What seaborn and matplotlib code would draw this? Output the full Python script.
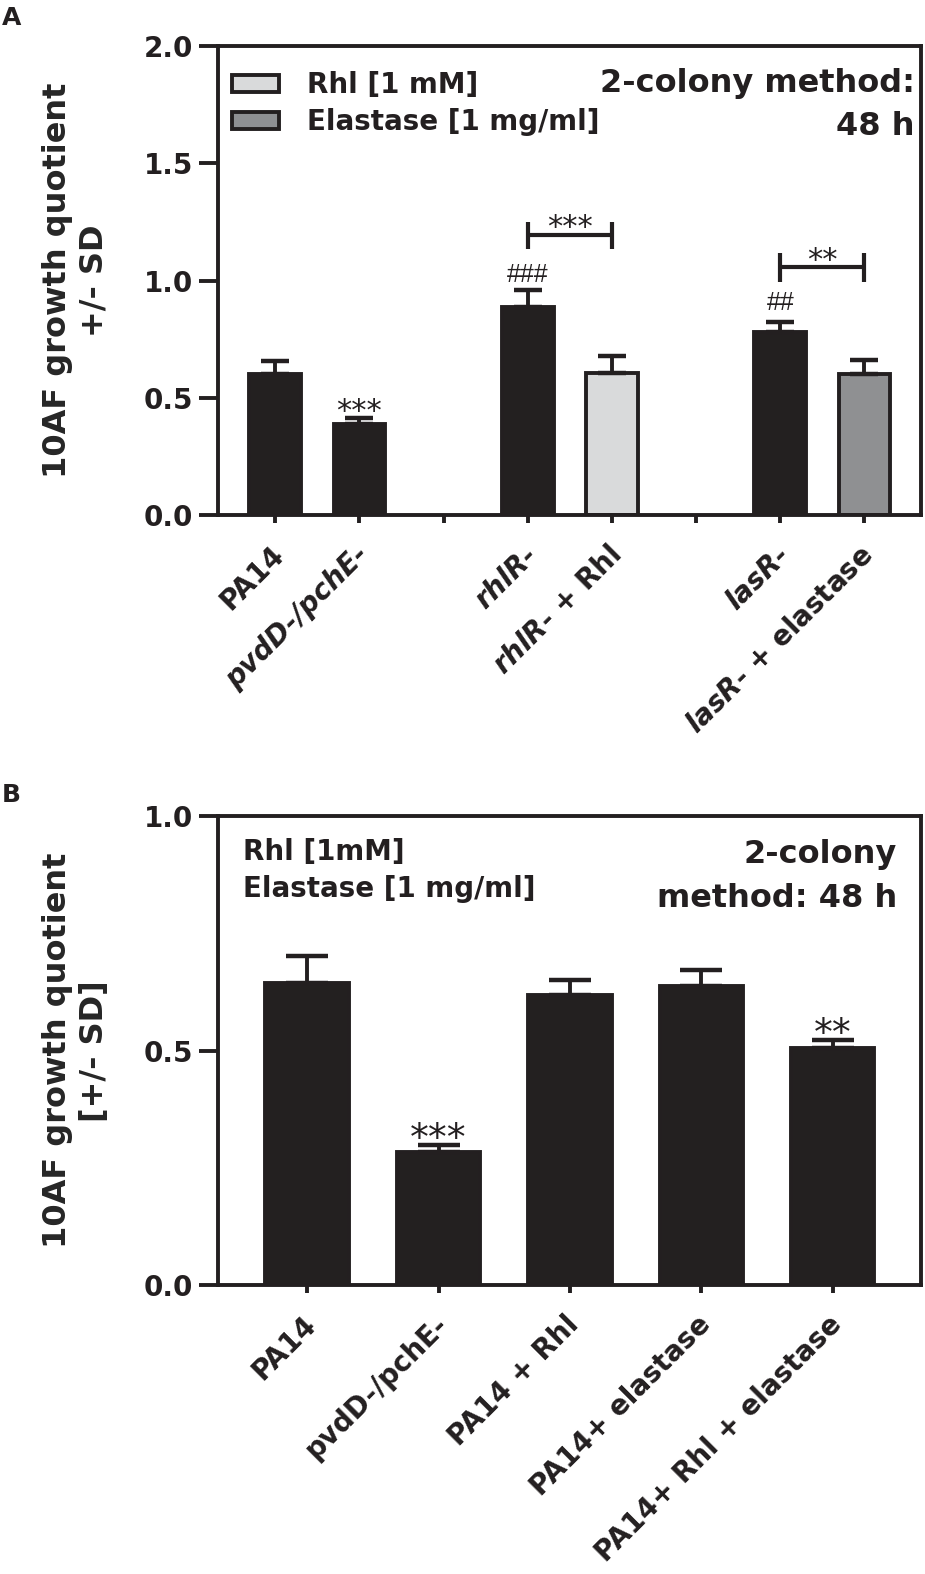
import numpy as np
import pandas as pd
import matplotlib
matplotlib.use("Agg")
import matplotlib.pyplot as plt
import matplotlib.transforms as mtransforms
from matplotlib.patches import Patch
import seaborn as sns

INK = "#231f20"
LIGHT = "#d9dadb"
MID = "#8e9093"

# ---- painel A ----
a_slots = ["PA14", "pvdD-/pchE-", "vazio1", "rhlR-", "rhlR- + Rhl",
           "vazio2", "lasR-", "lasR- + elastase"]
a_groups = ["PA14", "pvdD-/pchE-", "rhlR-", "rhlR- + Rhl", "lasR-", "lasR- + elastase"]
a_means = [0.601, 0.391, 0.888, 0.606, 0.781, 0.603]
a_sd = [0.055, 0.025, 0.071, 0.074, 0.045, 0.060]
a_fills = [INK, INK, INK, LIGHT, INK, MID]
a_ticklabels = ["PA14", "pvdD-/pchE-", "", "rhlR-", r"$\mathbfit{rhlR}$- + Rhl",
                "", "lasR-", r"$\mathbfit{lasR}$- + elastase"]
a_italic = [False, True, False, True, False, False, True, False]
a_stars = [("pvdD-/pchE-", "***", 0.484)]
a_hashes = [("rhlR-", "###", 1.036), ("lasR-", "##", 0.917)]
# (grupo 1, grupo 2, linha, perna baixo, perna alto, texto, altura texto)
a_brackets = [("rhlR-", "rhlR- + Rhl", 1.193, 1.136, 1.249, "***", 1.27),
              ("lasR-", "lasR- + elastase", 1.059, 0.995, 1.116, "**", 1.13)]
a_legend = ["Rhl [1 mM]", "Elastase [1 mg/ml]"]

# ---- painel B ----
b_groups = ["PA14", "pvdD-/pchE-", "PA14 + Rhl", "PA14+ elastase", "PA14+ Rhl + elastase"]
b_means = [0.644, 0.283, 0.618, 0.638, 0.505]
b_sd = [0.057, 0.015, 0.033, 0.034, 0.018]
b_stars = [("pvdD-/pchE-", "***", 0.336), ("PA14+ Rhl + elastase", "**", 0.560)]

sns.set_style("ticks")
plt.rcParams["font.family"] = "DejaVu Sans"
plt.rcParams["mathtext.fontset"] = "dejavusans"
plt.rcParams["text.color"] = INK
plt.rcParams["axes.edgecolor"] = INK
plt.rcParams["xtick.color"] = INK
plt.rcParams["ytick.color"] = INK

fig = plt.figure(figsize=(9.25, 15.74), dpi=100)
ax_a = fig.add_axes([0.2362, 0.6725, 0.7598, 0.2983])
ax_b = fig.add_axes([0.2362, 0.1834, 0.7598, 0.2982])

LW = 2.8


def estilo_eixos(ax, ylabel):
    for sp in ax.spines.values():
        sp.set_visible(True)
        sp.set_linewidth(LW)
        sp.set_color(INK)
    ax.tick_params(axis="y", length=13.5, width=LW, pad=4.5, labelsize=20)
    ax.tick_params(axis="x", length=6, width=LW, pad=12, labelsize=20)
    for t in ax.get_yticklabels():
        t.set_fontweight("bold")
    ax.set_xlabel("")
    ax.set_ylabel(ylabel, fontsize=23, fontweight="bold", linespacing=1.25)
    ax.yaxis.set_label_coords(-0.1544, 0.5)


def rotula_x(ax, labels, italic=None):
    ax.set_xticks(range(len(labels)))
    ax.set_xticklabels(labels, rotation=45, ha="right", va="top",
                       rotation_mode="anchor", fontweight="bold")
    shift = mtransforms.ScaledTranslation(-0.05, 0, fig.dpi_scale_trans)
    for i, t in enumerate(ax.get_xticklabels()):
        t.set_transform(t.get_transform() + shift)
        if italic is not None and italic[i]:
            t.set_fontstyle("italic")


# ---------- painel A ----------
df_a = pd.DataFrame({"grupo": a_groups, "quociente": a_means})
sns.barplot(data=df_a, x="grupo", y="quociente", order=a_slots, hue="grupo",
            palette=dict(zip(a_groups, a_fills)), width=0.615, edgecolor=INK,
            linewidth=LW, errorbar=None, legend=False, ax=ax_a)
pos_a = [a_slots.index(g) for g in a_groups]
ax_a.errorbar(pos_a, a_means, yerr=[np.zeros(len(a_sd)), a_sd], fmt="none",
              ecolor=INK, elinewidth=LW, capsize=10.2, capthick=3.2, zorder=3)
ax_a.set_ylim(0, 2.0)
ax_a.set_yticks([0, 0.5, 1.0, 1.5, 2.0])
ax_a.set_xlim(-0.675, len(a_slots) - 1 + 0.675)
estilo_eixos(ax_a, "10AF growth quotient\n+/- SD")
rotula_x(ax_a, a_ticklabels, a_italic)

for g, txt, y in a_stars:
    ax_a.annotate(txt, xy=(a_slots.index(g), y), xytext=(0, -0.33 * 22),
                  textcoords="offset points", ha="center", va="center",
                  fontsize=22, fontfamily="DejaVu Sans")
for g, txt, y in a_hashes:
    ax_a.annotate(txt, xy=(a_slots.index(g), y), xytext=(0, -0.1 * 18),
                  textcoords="offset points", ha="center", va="center",
                  fontsize=18, fontfamily="Liberation Sans")
for g1, g2, yl, lo, hi, txt, yt in a_brackets:
    x1, x2 = a_slots.index(g1), a_slots.index(g2)
    ax_a.plot([x1, x2], [yl, yl], color=INK, lw=3, solid_capstyle="butt")
    ax_a.vlines([x1, x2], lo, hi, color=INK, lw=3)
    ax_a.annotate(txt, xy=((x1 + x2) / 2, yt), xytext=(0, -0.33 * 22),
                  textcoords="offset points", ha="center", va="center",
                  fontsize=22, fontfamily="DejaVu Sans")

handles = [Patch(facecolor=LIGHT, edgecolor=INK, linewidth=LW),
           Patch(facecolor=MID, edgecolor=INK, linewidth=LW)]
ax_a.legend(handles, a_legend, loc="upper left", bbox_to_anchor=(0.019, 0.946),
            frameon=False, prop={"size": 20, "weight": "bold"}, handlelength=1.7,
            handleheight=0.58, handletextpad=1.0, labelspacing=0.33,
            borderaxespad=0, borderpad=0)
ax_a.text(0.991, 0.9027, "2-colony method:", transform=ax_a.transAxes, ha="right",
          va="baseline", fontsize=23, fontweight="bold")
ax_a.text(0.991, 0.8104, "48 h", transform=ax_a.transAxes, ha="right",
          va="baseline", fontsize=23, fontweight="bold")

# ---------- painel B ----------
df_b = pd.DataFrame({"grupo": b_groups, "quociente": b_means})
sns.barplot(data=df_b, x="grupo", y="quociente", order=b_groups, color=INK,
            width=0.635, edgecolor=INK, linewidth=LW, errorbar=None, ax=ax_b)
ax_b.errorbar(range(len(b_groups)), b_means, yerr=[np.zeros(len(b_sd)), b_sd],
              fmt="none", ecolor=INK, elinewidth=LW, capsize=15.4, capthick=3.2,
              zorder=3)
ax_b.set_ylim(0, 1.0)
ax_b.set_yticks([0, 0.5, 1.0])
ax_b.set_xlim(-0.675, len(b_groups) - 1 + 0.675)
estilo_eixos(ax_b, "10AF growth quotient\n[+/- SD]")
rotula_x(ax_b, b_groups)

for g, txt, y in b_stars:
    ax_b.annotate(txt, xy=(b_groups.index(g), y), xytext=(0, -0.33 * 27),
                  textcoords="offset points", ha="center", va="center",
                  fontsize=27, fontfamily="DejaVu Sans")

ax_b.text(0.0344, 0.906, "Rhl [1mM]", transform=ax_b.transAxes, ha="left",
          va="baseline", fontsize=20, fontweight="bold")
ax_b.text(0.0344, 0.828, "Elastase [1 mg/ml]", transform=ax_b.transAxes, ha="left",
          va="baseline", fontsize=20, fontweight="bold")
ax_b.text(0.9655, 0.900, "2-colony", transform=ax_b.transAxes, ha="right",
          va="baseline", fontsize=23, fontweight="bold")
ax_b.text(0.9655, 0.806, "method: 48 h", transform=ax_b.transAxes, ha="right",
          va="baseline", fontsize=23, fontweight="bold")

fig.text(2 / 925, 1 - 6 / 1574, "A", ha="left", va="top", fontsize=18, fontweight="bold")
fig.text(2 / 925, 1 - 783 / 1574, "B", ha="left", va="top", fontsize=18, fontweight="bold")

fig.savefig("out.png", dpi=100)
